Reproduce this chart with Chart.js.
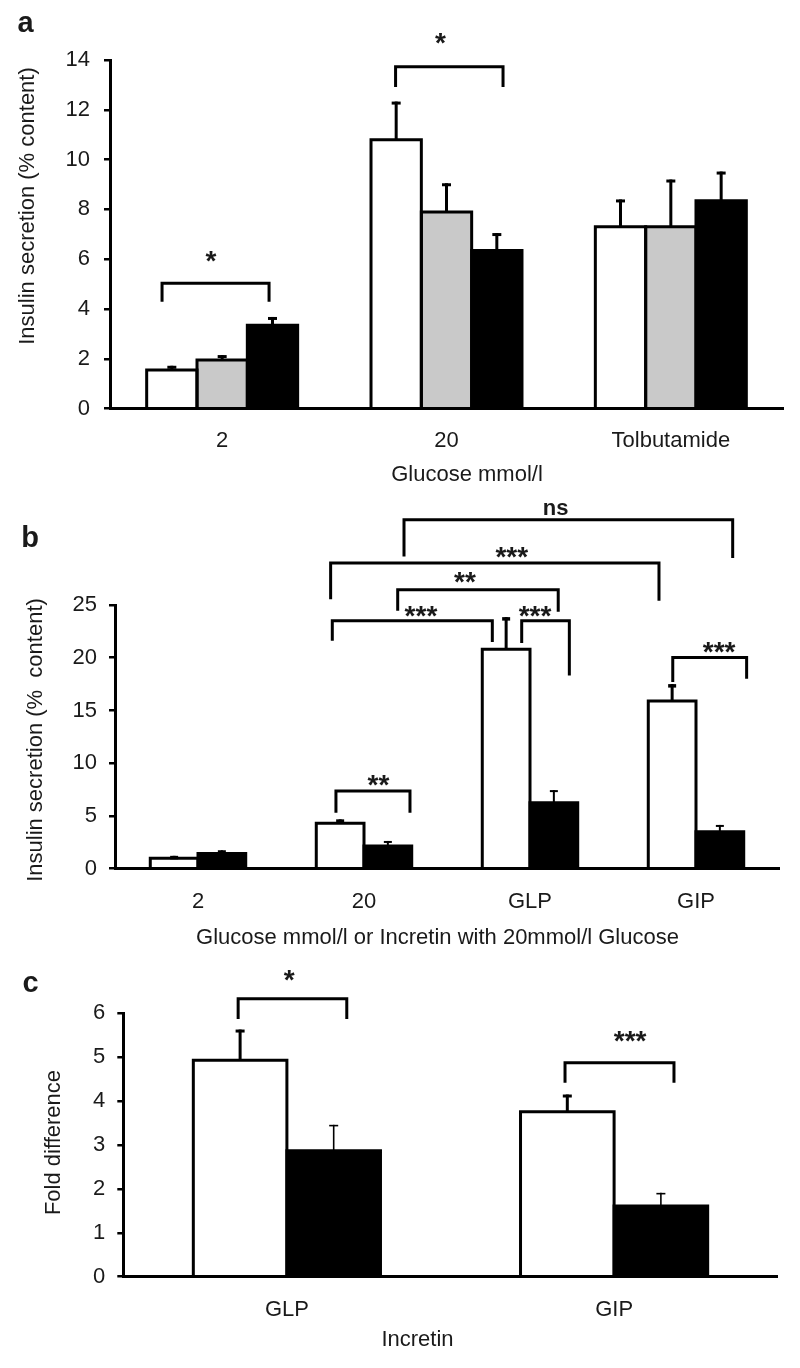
<!DOCTYPE html>
<html>
<head>
<meta charset="utf-8">
<title>Insulin secretion</title>
<script src="https://cdn.jsdelivr.net/npm/chart.js@4.4.1/dist/chart.umd.min.js"></script>
<style>
html, body { margin:0; padding:0; background:#fff; }
#page { position:relative; width:800px; height:1368px; overflow:hidden; background:#fff; }
canvas { position:absolute; left:0; }
</style>
</head>
<body>
<div id="page">
<canvas id="chartA" width="800" height="490" style="top:0px"></canvas>
<canvas id="chartB" width="800" height="455" style="top:490px"></canvas>
<canvas id="chartC" width="800" height="423" style="top:945px"></canvas>
</div>
<script>
// ---------- Panel a ----------
const aCategories = ['2', '20', 'Tolbutamide'];
const aWhite = [1.55, 10.8, 7.3];
const aWhiteSem = [0.17, 1.53, 1.1];
const aGrey = [1.95, 7.9, 7.3];
const aGreySem = [0.2, 1.15, 1.9];
const aBlack = [3.35, 6.35, 8.35];
const aBlackSem = [0.33, 0.7, 1.17];
const aYAxis = [0, 14, 2]; // min, max, step
// significance brackets: [left, right (category units), bar level, left leg end, right leg end, label, label x, label y]
const aSig = [
  [-0.268, 0.209, 5.03, 4.29, 4.29, '*', -0.05, 6.09],
  [0.773, 1.252, 13.73, 12.92, 12.92, '*', 0.973, 14.87]
];

// ---------- Panel b ----------
const bCategories = ['2', '20', 'GLP', 'GIP'];
const bWhite = [1.0, 4.3, 20.8, 15.9];
const bWhiteSem = [0.22, 0.38, 3.05, 1.6];
const bBlack = [1.45, 2.15, 6.25, 3.5];
const bBlackSem = [0.3, 0.48, 1.2, 0.65];
const bYAxis = [0, 25, 5];
const bSig = [
  [0.831, 1.277, 7.37, 5.31, 5.31, '**', 1.087, 8.32],
  [0.809, 1.773, 23.5, 21.6, 21.5, '***', 1.343, 24.38],
  [1.950, 2.237, 23.5, 21.39, 18.31, '***', 2.03, 24.36],
  [1.203, 2.170, 26.44, 24.45, 24.35, '**', 1.608, 27.58],
  [0.799, 2.777, 28.98, 25.55, 25.4, '***', 1.89, 29.95],
  [1.241, 3.221, 33.08, 29.6, 29.45, 'ns', 2.154, 34.1],
  [2.860, 3.305, 20.02, 17.7, 18.0, '***', 3.139, 20.94]
];

// ---------- Panel c ----------
const cCategories = ['GLP', 'GIP'];
const cWhite = [4.93, 3.76];
const cWhiteSem = [0.7, 0.39];
const cBlack = [2.87, 1.61];
const cBlackSem = [0.59, 0.3];
const cYAxis = [0, 6, 1];
const cSig = [
  [-0.149, 0.183, 6.33, 5.87, 5.87, '*', 0.007, 6.87],
  [0.850, 1.183, 4.875, 4.42, 4.42, '***', 1.049, 5.47]
];

const FONT = "'Liberation Sans', Arial, Helvetica, sans-serif";
const TXT = '#1a1a1a';
const WHITE = '#ffffff', GREY = '#c9c9c9', BLACK = '#000000';

function inkText(ctx, text, cx, cy, font, rot) {
  ctx.save();
  ctx.font = font;
  ctx.fillStyle = TXT;
  ctx.textAlign = 'center';
  ctx.textBaseline = 'alphabetic';
  const m = ctx.measureText(text);
  const off = (m.actualBoundingBoxAscent - m.actualBoundingBoxDescent) / 2;
  ctx.translate(cx, cy);
  if (rot) ctx.rotate(rot);
  ctx.fillText(text, 0, off);
  ctx.restore();
}

function decorPlugin(cfg) {
  return {
    id: 'decor',
    afterDatasetsDraw(chart) {
      const ctx = chart.ctx, ys = chart.scales.y;
      chart.data.datasets.forEach((ds, i) => {
        const meta = chart.getDatasetMeta(i);
        meta.data.forEach((bar, j) => {
          const p = bar.getProps(['x', 'y', 'base', 'width'], true);
          const l = p.x - p.width / 2, r = p.x + p.width / 2;
          ctx.save();
          ctx.strokeStyle = '#000';
          ctx.lineJoin = 'miter';
          ctx.lineCap = 'butt';
          ctx.lineWidth = 3;
          ctx.beginPath();
          ctx.moveTo(l, p.base); ctx.lineTo(l, p.y); ctx.lineTo(r, p.y); ctx.lineTo(r, p.base);
          ctx.stroke();
          const ye = ys.getPixelForValue(ds.data[j] + ds.sem[j]);
          ctx.lineWidth = ds.errLine;
          ctx.beginPath(); ctx.moveTo(p.x, p.y); ctx.lineTo(p.x, ye); ctx.stroke();
          ctx.lineWidth = ds.errCap;
          ctx.beginPath();
          ctx.moveTo(p.x - ds.capHalf, ye + ds.errCap / 2);
          ctx.lineTo(p.x + ds.capHalf, ye + ds.errCap / 2);
          ctx.stroke();
          ctx.restore();
        });
      });
    },
    afterDraw(chart) {
      const ctx = chart.ctx, xs = chart.scales.x, ys = chart.scales.y;
      const X = v => xs.getPixelForValue(v), Y = v => ys.getPixelForValue(v);
      cfg.sig.forEach(b => {
        const [x1, x2, yb, y1, y2, label, lx, ly] = b;
        ctx.save();
        ctx.strokeStyle = '#000';
        ctx.lineWidth = 3;
        ctx.lineJoin = 'miter';
        ctx.lineCap = 'butt';
        ctx.beginPath();
        ctx.moveTo(X(x1), Y(y1)); ctx.lineTo(X(x1), Y(yb)); ctx.lineTo(X(x2), Y(yb)); ctx.lineTo(X(x2), Y(y2));
        ctx.stroke();
        ctx.restore();
        inkText(ctx, label, X(lx), Y(ly), label === 'ns' ? 'bold 22px ' + FONT : 'bold 28px ' + FONT);
      });
      cfg.texts.forEach(t => inkText(ctx, t[0], t[1], t[2], t[3], t[4]));
    }
  };
}

function makeChart(id, cfg) {
  const datasets = cfg.series.map(s => ({
    data: s[0], sem: s[1], backgroundColor: s[2], borderWidth: 0,
    barPercentage: 1, categoryPercentage: cfg.catPct,
    errLine: s[3], errCap: s[4], capHalf: s[5]
  }));
  return new Chart(document.getElementById(id), {
    type: 'bar',
    data: { labels: cfg.labels, datasets },
    options: {
      responsive: false, animation: false, events: [],
      layout: { padding: { left: 0, top: cfg.area[2], right: 800 - cfg.area[1], bottom: 0 } },
      plugins: { legend: { display: false }, tooltip: { enabled: false } },
      scales: {
        x: {
          offset: true,
          grid: { display: false, drawTicks: false },
          border: { display: true, color: '#000', width: 3, z: 1 },
          ticks: { color: TXT, font: { family: FONT, size: 22 }, padding: cfg.xPad, maxRotation: 0, autoSkip: false },
          afterFit: s => { s.height = cfg.h - cfg.area[3]; }
        },
        y: {
          min: cfg.y[0], max: cfg.y[1],
          grid: { display: true, drawOnChartArea: false, drawTicks: true, tickLength: 6, color: '#000', lineWidth: 2.5 },
          border: { display: true, color: '#000', width: 3 },
          ticks: { stepSize: cfg.y[2], color: TXT, font: { family: FONT, size: 22 }, padding: cfg.yPad },
          afterFit: s => { s.width = cfg.area[0]; }
        }
      }
    },
    plugins: [decorPlugin(cfg)]
  });
}

const ROT = -Math.PI / 2;
const LBL = 'bold 29px ' + FONT, TTL = '22px ' + FONT;

makeChart('chartA', {
  labels: aCategories, h: 490, area: [110, 783, 60, 408.6], catPct: 0.673, xPad: 19, yPad: 14,
  y: aYAxis, sig: aSig,
  series: [[aWhite, aWhiteSem, WHITE, 3, 3, 4.5], [aGrey, aGreySem, GREY, 3, 3, 4.5], [aBlack, aBlackSem, BLACK, 3, 3, 4.5]],
  texts: [['a', 25.5, 23.5, LBL], ['Insulin secretion (% content)', 28, 206, TTL, ROT], ['Glucose mmol/l', 467, 473, TTL]]
});

makeChart('chartB', {
  labels: bCategories, h: 455, area: [115, 779, 115, 378.7], catPct: 0.575, xPad: 20, yPad: 12,
  y: bYAxis, sig: bSig,
  series: [[bWhite, bWhiteSem, WHITE, 3, 3.5, 4], [bBlack, bBlackSem, BLACK, 2, 2, 4]],
  texts: [['b', 30, 46, LBL], ['Insulin secretion (%  content)', 36, 250, TTL, ROT], ['Glucose mmol/l or Incretin with 20mmol/l Glucose', 437.5, 445.5, TTL]]
});

makeChart('chartC', {
  labels: cCategories, h: 423, area: [123.3, 777.7, 68.3, 331.7], catPct: 0.572, xPad: 20, yPad: 12,
  y: cYAxis, sig: cSig,
  series: [[cWhite, cWhiteSem, WHITE, 3, 3, 4.5], [cBlack, cBlackSem, BLACK, 1.6, 1.6, 4.5]],
  texts: [['c', 30.5, 39, LBL], ['Fold difference', 51.7, 197.5, TTL, ROT], ['Incretin', 417.5, 393, TTL]]
});
</script>
</body>
</html>
